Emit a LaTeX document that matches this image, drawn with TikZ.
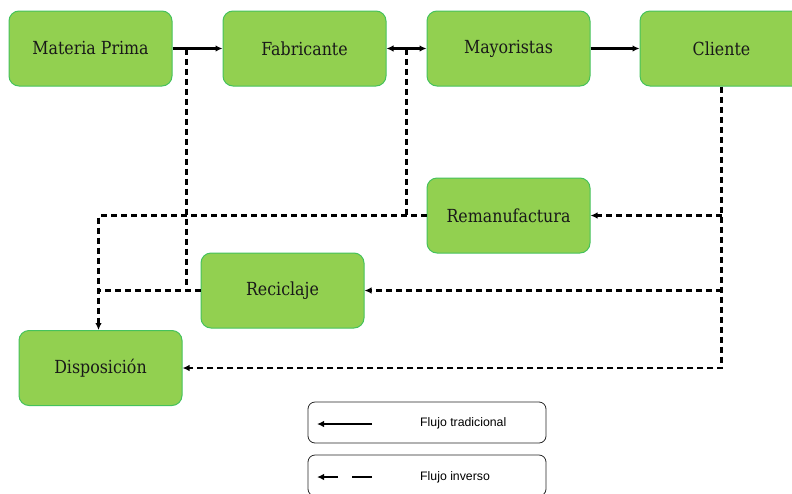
\documentclass[tikz,border=0pt]{standalone}
\usepackage{fontspec}
\newfontfamily\legfont{Liberation Sans}
\newfontfamily\boxfont[FakeStretch=0.88]{DejaVu Serif}
\usetikzlibrary{arrows.meta,calc}
\definecolor{boxfill}{HTML}{92D050}
\definecolor{boxborder}{HTML}{45C25C}
\begin{document}
\begin{tikzpicture}[x=1pt,y=-1pt,
  box/.style={draw=boxborder, fill=boxfill, line width=1pt, rounded corners=10pt,
    minimum width=163pt, minimum height=75pt, inner sep=0pt,
    font=\boxfont\fontsize{18}{20}\selectfont, text=black!90},
  flow/.style={line width=2.2pt, -{Latex[length=7pt,width=6.5pt]}},
  invline/.style={line width=2.2pt, dash pattern=on 6pt off 4pt},
  inv/.style={invline, -{Latex[length=7pt,width=6.5pt]}},
  legbox/.style={draw=black!85, line width=0.8pt, rounded corners=7pt,
    minimum width=238pt, minimum height=41pt, inner sep=0pt},
  legtext/.style={font=\legfont\fontsize{12.3}{14}\selectfont, anchor=west, inner sep=0pt}]
\useasboundingbox (0,0) rectangle (792,493);
\clip (0,0) rectangle (792,493);

% boxes
\node[box] (mp)  at (90.5,48.5)  {Materia Prima};
\node[box] (fab) at (304.5,48.5) {Fabricante};
\node[box] (may) at (508.5,48.5) {Mayoristas};
\node[box] (cli) at (721.5,48.5) {Cliente};
\node[box] (rem) at (508.5,215.5) {Remanufactura};
\node[box] (rec) at (282.5,290.5) {Reciclaje};
\node[box] (dis) at (100.5,368) {Disposición};

% traditional flow
\draw[flow] (mp) -- (fab);
\draw[line width=2.2pt, {Latex[length=7pt,width=6.5pt]}-{Latex[length=7pt,width=6.5pt]}] (fab) -- (may);
\draw[flow] (may) -- (cli);

% reverse flow
\coordinate (fm) at ($(fab.east)!0.5!(may.west)$);
\coordinate (mf) at ([xshift=14pt]mp.east);
\coordinate (dn) at ([xshift=-2pt]dis.north);
\draw[inv] (cli.south) |- (dis.east);
\draw[inv] (cli.south |- rem.east) -- (rem.east);
\draw[inv] (cli.south |- rec.east) -- (rec.east);
\draw[inv] (rem.west) -| (dn);
\draw[invline] (fm) -- (fm |- rem.west);
\draw[invline] (rec.west) -- (rec.west -| dn);
\draw[invline] (mf) -- (mf |- rec.west);

% legend
\node[legbox] (l1) at (427,422.5) {};
\node[legbox] (l2) at (427,475.5) {};
\node[legtext] (t1) at (420,423) {Flujo tradicional};
\node[legtext] (t2) at (420,477) {Flujo inverso};
\coordinate (a1) at (372,424);
\coordinate (b1) at (317,424);
\draw[flow] (a1) -- (b1);
\coordinate (a2) at (372,477);
\coordinate (b2) at (352,477);
\coordinate (c2) at (338,477);
\coordinate (d2) at (317,477);
\draw[line width=2.2pt] (a2) -- (b2);
\draw[flow] (c2) -- (d2);
\end{tikzpicture}
\end{document}
